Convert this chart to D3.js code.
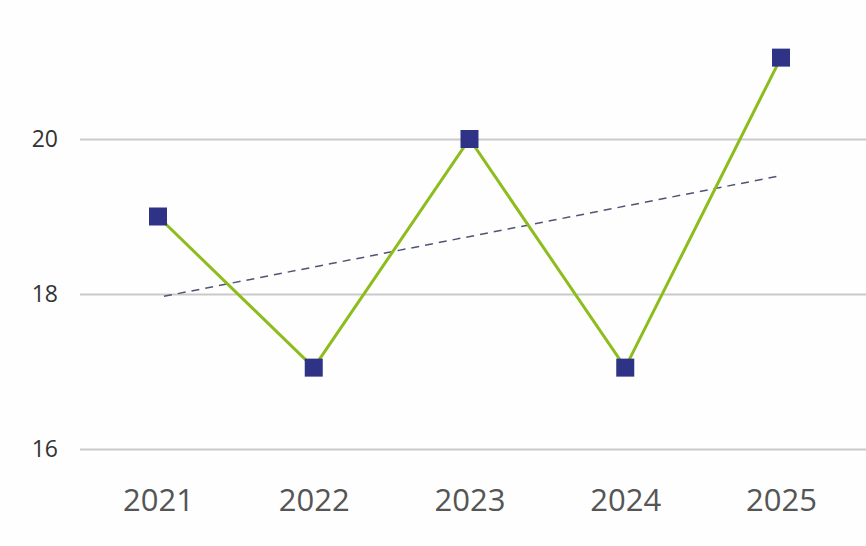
<!DOCTYPE html>
<html>
<head>
<meta charset="utf-8">
<script src="https://cdn.jsdelivr.net/npm/d3@7"></script>
<style>
body { margin: 0; background: #fefefe; }
</style>
</head>
<body>
<script>
var width = 866;
var height = 546;

// data
var years = ["2021", "2022", "2023", "2024", "2025"];
var values = [19.0, 17.05, 20.0, 17.05, 21.05];
var trendValues = [17.97, 19.52];
var yTicks = [16, 18, 20];

var xScale = d3.scalePoint()
.domain(years)
.range([158, 781]);

var yScale = d3.scaleLinear()
.domain([16, 20])
.range([449, 139]);

var svg = d3.select("body")
.append("svg")
.attr("width", width)
.attr("height", height);

// gridlines + y labels
var yAxis = d3.axisLeft(yScale)
.tickValues(yTicks)
.tickSize(-(width - 80))
.tickPadding(22)
.tickFormat(d3.format("d"));

var gy = svg.append("g")
.attr("transform", "translate(80,0)")
.call(yAxis);
gy.select(".domain").remove();
gy.selectAll(".tick line")
.attr("stroke", "#c9c9c9")
.attr("stroke-width", 2);
gy.selectAll(".tick text")
.attr("fill", "#333")
.attr("font-family", "Open Sans, sans-serif")
.attr("font-size", "23px")
.attr("dy", "0.32em");

// x labels
var xAxis = d3.axisBottom(xScale).tickSize(0).tickPadding(0);
var gx = svg.append("g")
.attr("transform", "translate(0,486)")
.call(xAxis);
gx.select(".domain").remove();
gx.selectAll(".tick text")
.attr("fill", "#555")
.attr("font-family", "Open Sans, sans-serif")
.attr("font-size", "31px")
.attr("dy", "0.8em");

// trend line
var trendLine = d3.line()
.x(function(d, i) { return i == 0 ? xScale(years[0]) + 6 : xScale(years[years.length - 1]) - 3; })
.y(function(d) { return yScale(d); });

svg.append("path")
.attr("d", trendLine(trendValues))
.attr("stroke", "#4f5474")
.attr("stroke-width", 1.5)
.attr("stroke-dasharray", "8,6")
.attr("fill", "none");

// main line
var linePath = d3.line()
.x(function(d, i) { return xScale(years[i]); })
.y(function(d) { return yScale(d); });

svg.append("path")
.attr("d", linePath(values))
.attr("stroke", "#8cbd1c")
.attr("stroke-width", 3)
.attr("fill", "none");

var size = 18;
svg.selectAll(".marker")
.data(values)
.enter()
.append("rect")
.attr("class", "marker")
.attr("x", function(d, i) { return xScale(years[i]) - size / 2; })
.attr("y", function(d) { return yScale(d) - size / 2; })
.attr("width", size)
.attr("height", size)
.attr("fill", "#2f3386");
</script>
</body>
</html>
